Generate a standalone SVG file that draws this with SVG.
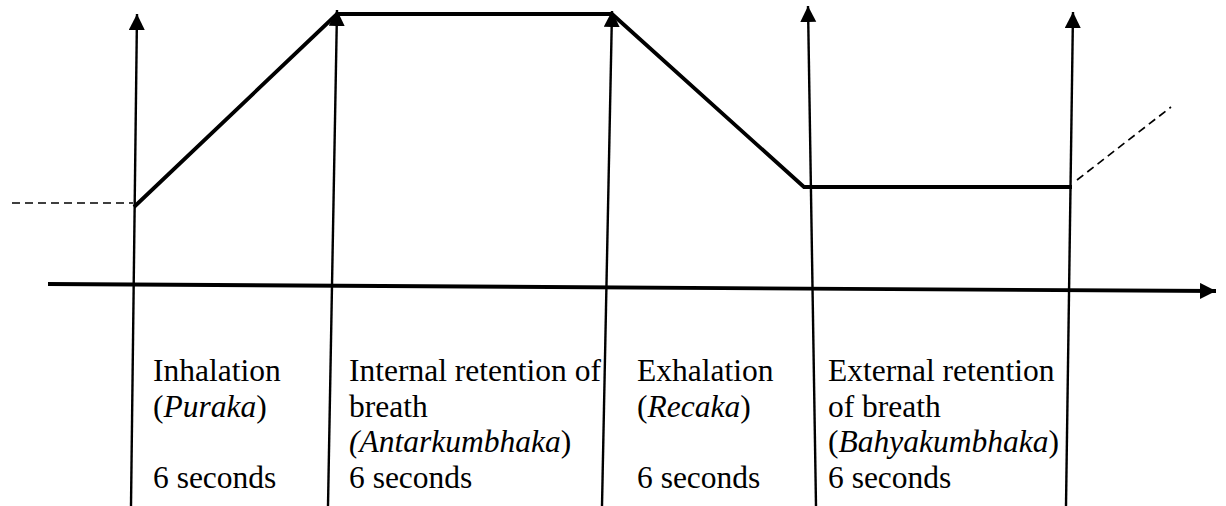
<svg xmlns="http://www.w3.org/2000/svg" width="1226" height="506" viewBox="0 0 1226 506">
<style>
.t{font-family:"Liberation Serif","Times New Roman",serif;font-size:31.5px;fill:#000}
.i{font-style:italic}
.v{stroke:#000;stroke-width:2.4;fill:none}
.b{stroke:#000;stroke-width:3.8;fill:none;stroke-linejoin:miter}
.d{stroke:#000;stroke-width:1.7;stroke-dasharray:8,5;fill:none}
</style>
<defs>
<marker id="ah" markerUnits="userSpaceOnUse" markerWidth="18" markerHeight="18" refX="16" refY="8" orient="auto">
<path d="M0,0 L16,8 L0,16 z" fill="#000"/>
</marker>
</defs>
<rect width="1226" height="506" fill="#fff"/>
<g id="connectors">
<line class="v" x1="131" y1="506" x2="137" y2="14" marker-end="url(#ah)"/>
<line class="v" x1="328" y1="506" x2="337" y2="10" marker-end="url(#ah)"/>
<line class="v" x1="602" y1="506" x2="612" y2="11" marker-end="url(#ah)"/>
<line class="v" x1="816" y1="506" x2="808" y2="6" marker-end="url(#ah)"/>
<line class="v" x1="1066" y1="506" x2="1073" y2="12" marker-end="url(#ah)"/>
<line class="b" x1="48" y1="284" x2="1216" y2="291" marker-end="url(#ah)"/>
<polyline class="b" points="134,207 337,14 612,14 804,187 1072,187"/>
<line class="d" x1="12" y1="203" x2="133" y2="203"/>
<line class="d" x1="1077" y1="180" x2="1171" y2="107"/>
</g>
<g id="inhalation">
<text class="t" x="153" y="381">Inhalation</text>
<text class="t" x="153" y="417">(<tspan class="i">Puraka</tspan>)</text>
<text class="t" x="153" y="488">6 seconds</text>
</g>
<g id="internal-retention">
<text class="t" x="349" y="381">Internal retention of</text>
<text class="t" x="349" y="417">breath</text>
<text class="t" x="349" y="452"><tspan class="i">(Antarkumbhaka</tspan>)</text>
<text class="t" x="349" y="488">6 seconds</text>
</g>
<g id="exhalation">
<text class="t" x="637" y="381">Exhalation</text>
<text class="t" x="637" y="417">(<tspan class="i">Recaka</tspan>)</text>
<text class="t" x="637" y="488">6 seconds</text>
</g>
<g id="external-retention">
<text class="t" x="828" y="381">External retention</text>
<text class="t" x="828" y="417">of breath</text>
<text class="t" x="828" y="452">(<tspan class="i">Bahyakumbhaka</tspan>)</text>
<text class="t" x="828" y="488">6 seconds</text>
</g>
</svg>
